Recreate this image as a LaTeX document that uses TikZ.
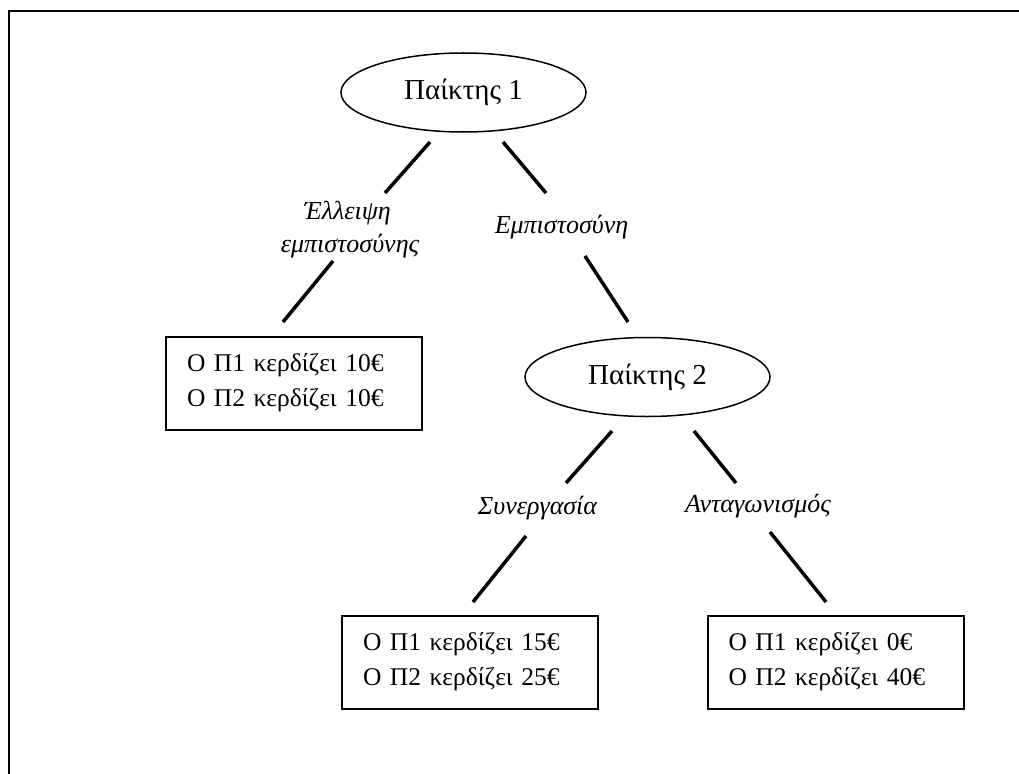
\documentclass[tikz,border=0pt]{standalone}
\usepackage{fontspec}
\setmainfont{Liberation Serif}
\usetikzlibrary{shapes.geometric}
\tikzset{
  player/.style={draw, ellipse, line width=1.5pt, minimum width=245pt, minimum height=79pt,
    inner sep=0pt, font=\fontsize{29}{35}\selectfont},
  payoff/.style={draw, line width=2pt, minimum width=256pt, minimum height=93pt,
    inner sep=0pt, text width=214pt, align=left, font=\fontsize{25.5}{35}\selectfont},
  choice/.style={inner sep=0pt, anchor=base, font=\fontsize{26}{30}\selectfont\itshape},
  branch/.style={line width=3.5pt},
  frame/.style={line width=2pt},
}
\begin{document}
\begin{tikzpicture}[x=1pt, y=-1pt]
\useasboundingbox (0,0) rectangle (1019,773);

% page frame (top and left edges)
\coordinate (fb) at (9,790);
\coordinate (fc) at (9,11);
\coordinate (fr) at (1040,11);
\draw[frame] (fb) -- (fc) -- (fr);

% players
\node[player] (p1) at (463.5,92.5) {Παίκτης 1};
\node[player] (p2) at (647.5,377) {Παίκτης 2};

% branch labels
\node[choice] (l1a) at (347.5,219) {Έλλειψη};
\node[choice] (l1b) at (350,252) {εμπιστοσύνης};
\node[choice] (l2) at (561.5,233) {Εμπιστοσύνη};
\node[choice] (l3) at (537.5,514) {Συνεργασία};
\node[choice] (l4) at (758,512) {Ανταγωνισμός};

% payoffs
\node[payoff] (b1) at (294,383) {Ο Π1 κερδίζει 10€\\Ο Π2 κερδίζει 10€};
\node[payoff] (b2) at (470,662) {Ο Π1 κερδίζει 15€\\Ο Π2 κερδίζει 25€};
\node[payoff] (b3) at (835.5,662) {Ο Π1 κερδίζει 0€\\Ο Π2 κερδίζει 40€};

% branch segments
\coordinate (a1) at (430,142);  \coordinate (a2) at (385,193);
\coordinate (a3) at (503,142);  \coordinate (a4) at (546,193);
\coordinate (a5) at (333,261);  \coordinate (a6) at (283,322);
\coordinate (a7) at (585,256);  \coordinate (a8) at (628,322);
\coordinate (a9) at (612,431);  \coordinate (a10) at (566,483);
\coordinate (a11) at (694,431); \coordinate (a12) at (736,483);
\coordinate (a13) at (526,536); \coordinate (a14) at (473,602);
\coordinate (a15) at (770,532); \coordinate (a16) at (826,602);

\draw[branch] (a1) -- (a2);
\draw[branch] (a3) -- (a4);
\draw[branch] (a5) -- (a6);
\draw[branch] (a7) -- (a8);
\draw[branch] (a9) -- (a10);
\draw[branch] (a11) -- (a12);
\draw[branch] (a13) -- (a14);
\draw[branch] (a15) -- (a16);
\end{tikzpicture}
\end{document}
